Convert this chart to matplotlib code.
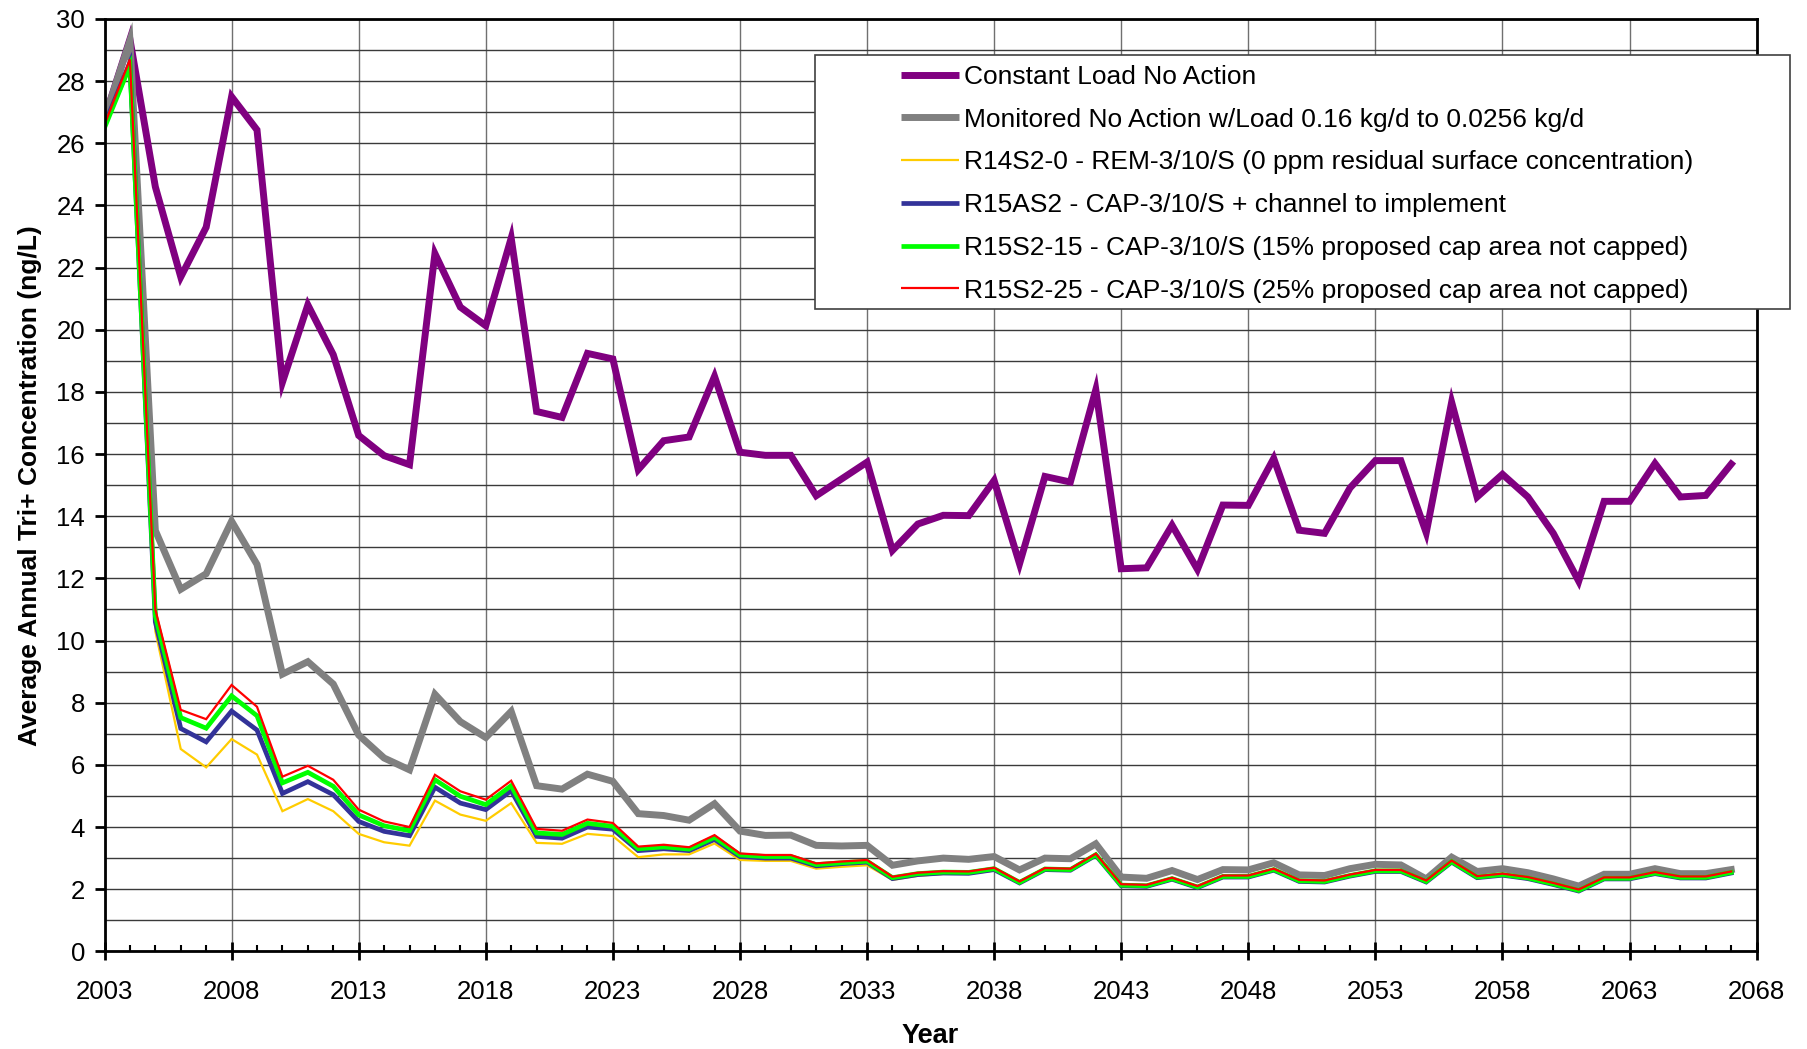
import matplotlib
matplotlib.use("Agg")
import matplotlib.pyplot as plt
from matplotlib.patches import Rectangle
from matplotlib.ticker import MultipleLocator

plt.rcParams['font.family'] = ['Liberation Sans', 'DejaVu Sans']

years = list(range(2003, 2068))

constant_load = [26.8, 29.35, 24.6, 21.7, 23.3, 27.5, 26.43, 18.31, 20.8, 19.2,
                 16.6, 15.95, 15.66, 22.45, 20.73, 20.13, 22.95, 17.37, 17.18, 19.24,
                 19.06, 15.5, 16.43, 16.55, 18.5, 16.06, 15.96, 15.96, 14.66, 15.2,
                 15.74, 12.9, 13.75, 14.03, 14.02, 15.15, 12.47, 15.28, 15.1, 18.07,
                 12.31, 12.34, 13.71, 12.29, 14.36, 14.35, 15.86, 13.55, 13.45, 14.91,
                 15.79, 15.79, 13.47, 17.67, 14.62, 15.35, 14.62, 13.45, 11.91, 14.48,
                 14.48, 15.7, 14.62, 14.67, 15.68]

monitored = [26.8, 29.3, 13.54, 11.65, 12.15, 13.84, 12.45, 8.92, 9.32, 8.6,
             6.96, 6.22, 5.84, 8.27, 7.39, 6.88, 7.72, 5.33, 5.22, 5.70,
             5.47, 4.43, 4.37, 4.22, 4.75, 3.87, 3.73, 3.74, 3.41, 3.39,
             3.41, 2.77, 2.91, 3.0, 2.96, 3.05, 2.62, 3.0, 2.98, 3.46,
             2.39, 2.35, 2.6, 2.31, 2.63, 2.62, 2.85, 2.46, 2.44, 2.66,
             2.8, 2.78, 2.33, 3.03, 2.57, 2.66, 2.53, 2.33, 2.1, 2.48,
             2.48, 2.66, 2.5, 2.5, 2.63]

r14s2_0 = [26.5, 28.4, 10.3, 6.51, 5.92, 6.83, 6.33, 4.51, 4.9, 4.51,
           3.78, 3.51, 3.4, 4.85, 4.4, 4.2, 4.77, 3.49, 3.46, 3.78,
           3.71, 3.03, 3.12, 3.12, 3.47, 2.94, 2.91, 2.91, 2.66, 2.72,
           2.77, 2.3, 2.43, 2.49, 2.49, 2.6, 2.19, 2.61, 2.59, 3.07,
           2.09, 2.07, 2.3, 2.03, 2.37, 2.37, 2.59, 2.23, 2.21, 2.4,
           2.55, 2.55, 2.21, 2.85, 2.35, 2.43, 2.32, 2.13, 1.92, 2.31,
           2.31, 2.48, 2.34, 2.34, 2.5]

r15as2 = [26.6, 28.6, 10.6, 7.17, 6.74, 7.73, 7.12, 5.08, 5.46, 5.04,
          4.18, 3.86, 3.72, 5.28, 4.77, 4.56, 5.17, 3.70, 3.64, 4.0,
          3.93, 3.24, 3.3, 3.24, 3.6, 3.05, 3.0, 3.0, 2.75, 2.82,
          2.87, 2.34, 2.47, 2.52, 2.51, 2.63, 2.2, 2.63, 2.61, 3.09,
          2.11, 2.09, 2.32, 2.05, 2.39, 2.39, 2.61, 2.25, 2.23, 2.42,
          2.57, 2.57, 2.23, 2.87, 2.37, 2.45, 2.34, 2.15, 1.94, 2.33,
          2.33, 2.5, 2.36, 2.36, 2.52]

r15s2_15 = [26.5, 28.5, 10.8, 7.52, 7.18, 8.22, 7.58, 5.42, 5.76, 5.31,
            4.39, 4.04, 3.88, 5.52, 4.99, 4.72, 5.33, 3.81, 3.76, 4.12,
            4.02, 3.3, 3.36, 3.29, 3.67, 3.1, 3.05, 3.05, 2.79, 2.85,
            2.9, 2.37, 2.5, 2.55, 2.54, 2.66, 2.22, 2.65, 2.63, 3.11,
            2.13, 2.11, 2.34, 2.07, 2.41, 2.41, 2.63, 2.27, 2.25, 2.44,
            2.59, 2.59, 2.25, 2.89, 2.39, 2.47, 2.36, 2.17, 1.96, 2.35,
            2.35, 2.52, 2.38, 2.38, 2.54]

r15s2_25 = [26.6, 28.7, 11.0, 7.77, 7.47, 8.57, 7.87, 5.62, 5.97, 5.52,
            4.56, 4.18, 4.0, 5.68, 5.15, 4.88, 5.49, 3.94, 3.88, 4.24,
            4.13, 3.37, 3.43, 3.35, 3.74, 3.15, 3.1, 3.1, 2.83, 2.89,
            2.94, 2.4, 2.53, 2.58, 2.57, 2.69, 2.25, 2.68, 2.66, 3.14,
            2.16, 2.14, 2.37, 2.1, 2.44, 2.44, 2.66, 2.3, 2.28, 2.47,
            2.62, 2.62, 2.28, 2.92, 2.42, 2.5, 2.39, 2.2, 1.99, 2.38,
            2.38, 2.55, 2.41, 2.41, 2.57]

labels = ["Constant Load No Action",
          "Monitored No Action w/Load 0.16 kg/d to 0.0256 kg/d",
          "R14S2-0 - REM-3/10/S (0 ppm residual surface concentration)",
          "R15AS2 - CAP-3/10/S + channel to implement",
          "R15S2-15 - CAP-3/10/S (15% proposed cap area not capped)",
          "R15S2-25 - CAP-3/10/S (25% proposed cap area not capped)"]
colors = ['#800080', '#808080', '#FFCC00', '#333399', '#00FF00', '#FF0000']
widths = [5.0, 5.0, 1.6, 3.4, 3.4, 1.6]
series = [constant_load, monitored, r14s2_0, r15as2, r15s2_15, r15s2_25]

fig = plt.figure(figsize=(18.08, 10.49), dpi=100)
ax = fig.add_axes([0.0578, 0.0931, 0.9716 - 0.0578, 0.9819 - 0.0931])

lines = []
for vals, c, lw, lab in zip(series, colors, widths, labels):
    ln, = ax.plot(years, vals, color=c, lw=lw, label=lab, solid_joinstyle='miter')
    lines.append(ln)

ax.set_xlim(2003, 2068)
ax.set_ylim(0, 30)
ax.set_xticks(range(2003, 2069, 5))
ax.xaxis.set_minor_locator(MultipleLocator(1))
ax.yaxis.set_major_locator(MultipleLocator(2))
ax.yaxis.set_minor_locator(MultipleLocator(1))

ax.grid(True, axis='y', which='both', color='#3a3a3a', lw=1.0)
ax.grid(True, axis='x', which='major', color='#707070', lw=1.0)
ax.set_axisbelow(True)

ax.tick_params(axis='x', which='major', direction='inout', length=13, width=2,
               labelsize=18.5, pad=14)
ax.tick_params(axis='x', which='minor', direction='in', length=4, width=1.5)
ax.tick_params(axis='y', which='major', direction='out', length=7, width=2,
               labelsize=18.5, pad=7)
ax.tick_params(axis='y', which='minor', length=0)
for s in ax.spines.values():
    s.set_linewidth(2)
    s.set_color('black')

ax.set_xlabel("Year", fontsize=19.5, fontweight='bold', labelpad=14)
ax.set_ylabel("Average Annual Tri+ Concentration (ng/L)", fontsize=19,
              fontweight='bold', labelpad=10)

# legend box sticks out past the right edge of the plot
box = Rectangle((815 / 1808, 1 - 309 / 1049), (1790 - 815) / 1808, (309 - 55) / 1049,
                transform=fig.transFigure, facecolor='white', edgecolor='#404040',
                lw=1.2, zorder=5)
fig.patches.append(box)
leg = fig.legend(handles=lines, loc='upper left',
                 bbox_to_anchor=(901 / 1808, 1 - 65 / 1049),
                 frameon=False, fontsize=19, borderpad=0, borderaxespad=0,
                 handlelength=2.2, handletextpad=0.2, labelspacing=0.71)
leg.set_zorder(6)
for h in leg.legend_handles:
    h.set_solid_capstyle('butt')

fig.savefig("out.png", dpi=100)
